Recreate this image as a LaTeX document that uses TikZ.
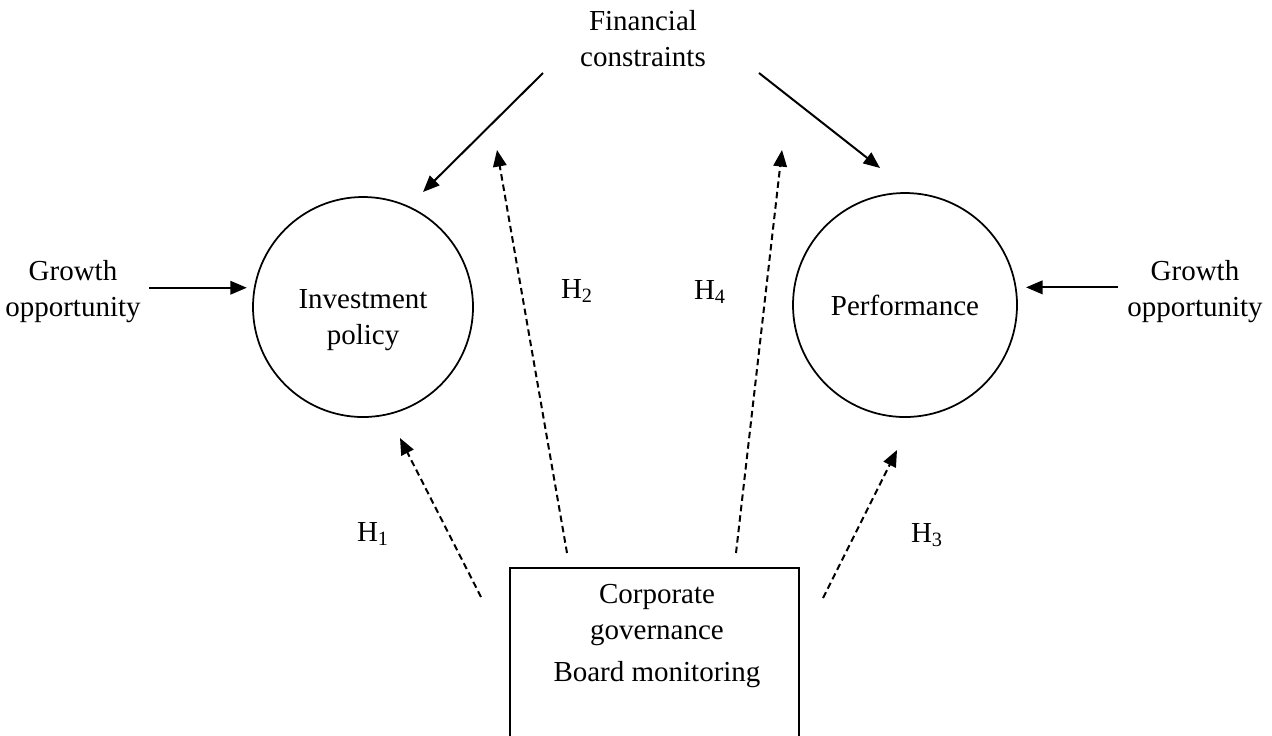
\documentclass[tikz,border=0pt]{standalone}
\usepackage{fontspec}
\setmainfont{Liberation Serif}
\usetikzlibrary{arrows.meta}

\tikzset{
  lbl/.style={align=center,font=\fontsize{16.5}{20.5}\selectfont},
  bubble/.style={draw,circle,line width=0.35mm,minimum size=44mm,inner sep=0pt},
  arr/.style={-{Triangle[length=3.3mm,width=2.7mm]},line width=0.4mm},
  darr/.style={arr,dash pattern=on 1.3mm off 0.8mm},
}

\begin{document}
\begin{tikzpicture}[x=0.2mm,y=-0.2mm]
\useasboundingbox (0,0) rectangle (1272,735);
\clip (0,0) rectangle (1272,735);

\node[lbl] (fin) at (643,39) {Financial\\constraints};

\node[bubble] (inv) at (363,307) {};
\node[lbl] (invtxt) at (363,320) {Investment\\policy};
\node[bubble,lbl,minimum size=44.8mm] (perf) at (905,305) {Performance};

\node[lbl] (gl) at (73,292) {Growth\\opportunity};
\node[lbl] (gr) at (1195,292) {Growth\\opportunity};

\node[draw,line width=0.35mm,minimum width=57.8mm,minimum height=40mm,anchor=north] (cg) at (654.5,567) {};
\node[lbl] (cgtxt) at (657,636) {Corporate\\governance\\[3.5pt]Board monitoring};

%% hypotheses
\foreach \n/\x/\y in {1/373/534,2/577/291,3/927/535,4/710/292}{
  \node[lbl] (h\n) at (\x,\y) {H\textsubscript{\n}};
}

%% free ends
\coordinate (fcA) at (543,73);
\coordinate (fcB) at (759,73);
\coordinate (ipTop) at (423,192);
\coordinate (pfTop) at (880,168);
\coordinate (h1s) at (481,597);
\coordinate (h1t) at (400,438);
\coordinate (h2s) at (567,553);
\coordinate (h2t) at (497,150);
\coordinate (h3s) at (823,598);
\coordinate (h3t) at (897,450);
\coordinate (h4s) at (736,553);
\coordinate (h4t) at (782,150);

\draw[arr,shorten <=0.5mm,shorten >=1.4mm] (gl.east |- inv.170) -- (inv.170);
\draw[arr,shorten <=0.6mm,shorten >=1.9mm] (gr.west |- perf.9) -- (perf.9);
\draw[arr] (fcA) -- (ipTop);
\draw[arr] (fcB) -- (pfTop);

\foreach \n in {1,2,3,4}{
  \draw[darr] (h\n s) -- (h\n t);
}

\end{tikzpicture}
\end{document}
